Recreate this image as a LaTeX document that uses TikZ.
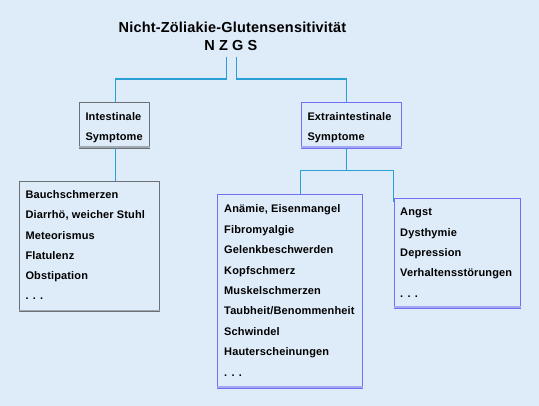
\documentclass[tikz,border=0pt]{standalone}
\usepackage{fontspec}
\setmainfont{Liberation Sans}[LetterSpace=1.3]
\definecolor{bg}{HTML}{DEEBF8}
\definecolor{conn}{HTML}{2A9FD6}
\definecolor{graybox}{HTML}{6B7075}
\definecolor{grayshade}{HTML}{A0A8B0}
\definecolor{bluebox}{HTML}{7070F5}
\definecolor{blueshade}{HTML}{A4A8F0}
\begin{document}
\begin{tikzpicture}[x=1pt,y=-1pt,
  title/.style={font=\fontsize{14.5}{16}\selectfont\bfseries, inner sep=0pt, anchor=base},
  item/.style={font=\fontsize{11}{13}\selectfont\bfseries, inner sep=0pt, anchor=base west},
  gbox/.style={draw=graybox, line width=0.9pt, inner sep=0pt, anchor=north west},
  bbox/.style={draw=bluebox, line width=0.9pt, inner sep=0pt, anchor=north west},
  conline/.style={draw=conn, line width=1.3pt}]
\fill[bg] (0,0) rectangle (539,406);
\useasboundingbox (0,0) rectangle (539,406);

% titles
\node[title] (t1) at (232.5,32.3) {Nicht-Zöliakie-Glutensensitivität};
\node[title] (t2) at (230.8,50.7) {N Z G S};

% boxes
\node[gbox, minimum width=70, minimum height=45] (I) at (79.3,102.3) {};
\node[bbox, minimum width=100, minimum height=45] (E) at (300.7,102.3) {};
\node[gbox, minimum width=140, minimum height=130] (L) at (19.3,180.7) {};
\node[bbox, minimum width=145, minimum height=193] (M) at (217.3,194.3) {};
\node[bbox, minimum width=126.3, minimum height=109] (R) at (393.7,198.3) {};

\draw[grayshade, line width=1.6pt] ([yshift=1]I.south west) -- ([yshift=1]I.south east);
\draw[blueshade, line width=1.6pt] ([yshift=1]E.south west) -- ([yshift=1]E.south east);
\draw[grayshade, line width=1.6pt] ([yshift=1]L.south west) -- ([yshift=1]L.south east);
\draw[blueshade, line width=1.6pt] ([yshift=1]M.south west) -- ([yshift=1]M.south east);
\draw[blueshade, line width=1.6pt] ([yshift=1]R.south west) -- ([yshift=1]R.south east);
\draw[graybox, line width=0.9pt] (I.south west) -- (I.south east);
\draw[bluebox, line width=0.9pt] (E.south west) -- (E.south east);
\draw[graybox, line width=0.9pt] (L.south west) -- (L.south east);
\draw[bluebox, line width=0.9pt] (M.south west) -- (M.south east);
\draw[bluebox, line width=0.9pt] (R.south west) -- (R.south east);

% header texts
\node[item] (i1) at (85.3,120.4) {Intestinale};
\node[item] (i2) at (85.3,140.4) {Symptome};
\node[item] (e1) at (307.3,120.4) {Extraintestinale};
\node[item] (e2) at (307.3,140.4) {Symptome};

% list texts
\foreach \t [count=\i] in {Bauchschmerzen,{Diarrhö, weicher Stuhl},Meteorismus,Flatulenz,Obstipation,{. . .}}
  \node[item] (l\i) at (25.3,{198.7+20.2*(\i-1)}) {\t};
\foreach \t [count=\i] in {{Anämie, Eisenmangel},Fibromyalgie,Gelenkbeschwerden,Kopfschmerz,Muskelschmerzen,Taubheit/Benommenheit,Schwindel,Hauterscheinungen,{. . .}}
  \node[item] (m\i) at (224,{213+20.4*(\i-1)}) {\t};
\foreach \t [count=\i] in {Angst,Dysthymie,Depression,Verhaltensstörungen,{. . .}}
  \node[item] (r\i) at (400,{216+20.3*(\i-1)}) {\t};

% connector coordinates
\coordinate (sl) at (226.7,57);
\coordinate (sr) at (236.7,57);
\coordinate (hl) at (115.7,79);
\coordinate (hr) at (346.7,79);
\coordinate (ex) at (346.7,170.5);
\coordinate (ml) at (300.7,170.5);
\coordinate (mr) at (393.3,170.5);

\draw[conline] (sl) |- (hl) -- (hl |- I.north);
\draw[conline] (sr) |- (hr) -- (hr |- E.north);
\draw[conline] (hl |- I.south) -- (hl |- L.north);
\draw[conline] (ex |- E.south) -- (ex);
\draw[conline] (ml |- M.north) -- (ml) -- (mr) -- ([yshift=-4]mr |- R.north);
\end{tikzpicture}
\end{document}
